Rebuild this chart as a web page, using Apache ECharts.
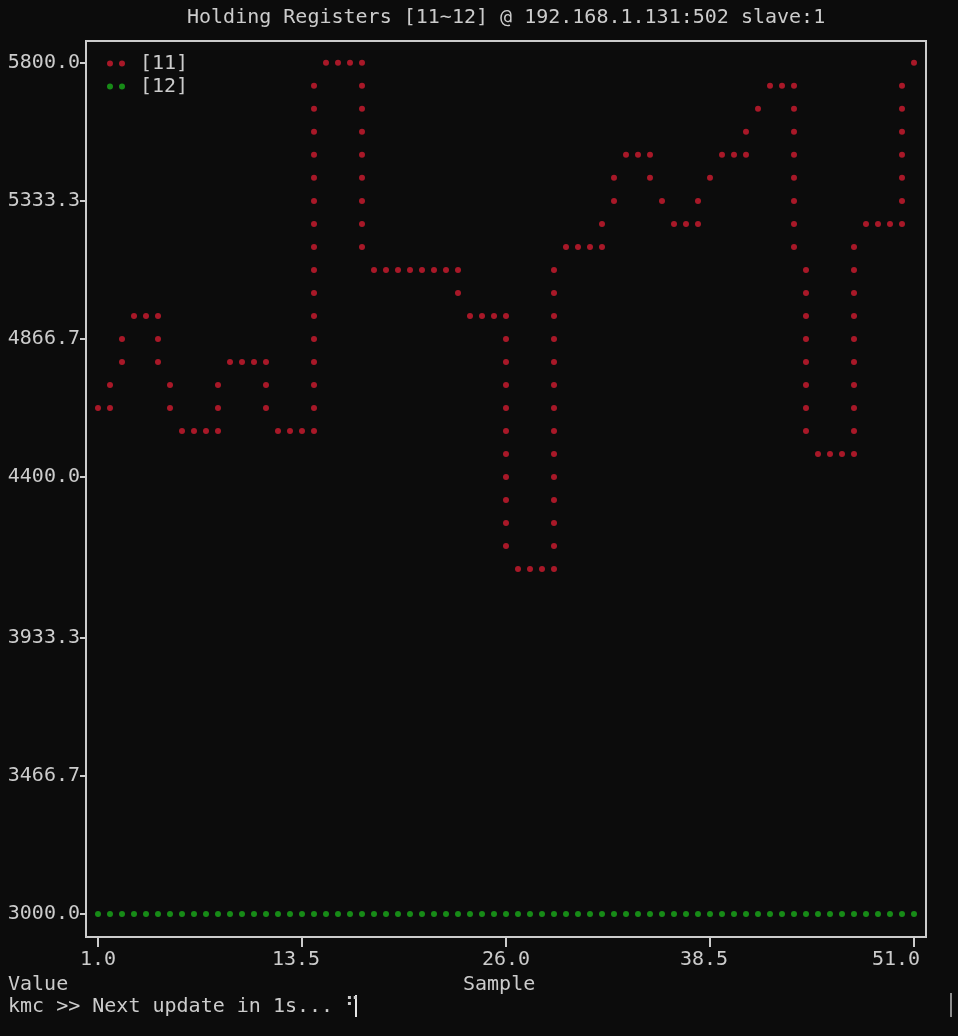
<!DOCTYPE html>
<html>
<head>
<meta charset="utf-8">
<script src="https://cdn.jsdelivr.net/npm/echarts@6/dist/echarts.min.js"></script>
<style>
  html, body { margin: 0; padding: 0; background: #0c0c0c; }
  #chart { width: 958px; height: 1036px; }
</style>
</head>
<body>
<div id="chart"></div>
<script>
// terminal plot: x = plot column (sample axis), y = plot row (value axis, row 0 = top)
const xTickCols = [0, 17, 34, 51, 68]
const xTickLabels = ['1.0', '13.5', '26.0', '38.5', '51.0']
const yTickRows = [0, 6, 12, 18, 25, 31, 37]
const yTickLabels = ['5800.0', '5333.3', '4866.7', '4400.0', '3933.3', '3466.7', '3000.0']

// register [11]: rows lit in each column 0..68
const reg11Rows = [
  [15], [14, 15], [12, 13], [11], [11], [11, 12, 13], [14, 15], [16], [16], [16],
  [14, 15, 16], [13], [13], [13], [13, 14, 15], [16], [16], [16],
  [1, 2, 3, 4, 5, 6, 7, 8, 9, 10, 11, 12, 13, 14, 15, 16],
  [0], [0], [0], [0, 1, 2, 3, 4, 5, 6, 7, 8],
  [9], [9], [9], [9], [9], [9], [9], [9, 10], [11], [11], [11],
  [11, 12, 13, 14, 15, 16, 17, 18, 19, 20, 21],
  [22], [22], [22],
  [9, 10, 11, 12, 13, 14, 15, 16, 17, 18, 19, 20, 21, 22],
  [8], [8], [8], [7, 8], [5, 6], [4], [4], [4, 5], [6], [7], [7], [6, 7], [5],
  [4], [4], [3, 4], [2], [1], [1],
  [1, 2, 3, 4, 5, 6, 7, 8],
  [9, 10, 11, 12, 13, 14, 15, 16],
  [17], [17], [17],
  [8, 9, 10, 11, 12, 13, 14, 15, 16, 17],
  [7], [7], [7],
  [1, 2, 3, 4, 5, 6, 7],
  [0]
]

// register [12]: flat at 3000 (bottom row)
const reg12Rows = [
  [37], [37], [37], [37], [37], [37], [37], [37], [37], [37],
  [37], [37], [37], [37], [37], [37], [37], [37], [37], [37],
  [37], [37], [37], [37], [37], [37], [37], [37], [37], [37],
  [37], [37], [37], [37], [37], [37], [37], [37], [37], [37],
  [37], [37], [37], [37], [37], [37], [37], [37], [37], [37],
  [37], [37], [37], [37], [37], [37], [37], [37], [37], [37],
  [37], [37], [37], [37], [37], [37], [37], [37], [37]
]

const mono = "'DejaVu Sans Mono', monospace"
const fg = '#cccccc'
const twoDots = 'path://M0,3A3,3,0,1,0,6,3A3,3,0,1,0,0,3ZM12,3A3,3,0,1,0,18,3A3,3,0,1,0,12,3Z'

function cells (rowsByCol) {
  const out = []
  rowsByCol.forEach((rows, c) => rows.forEach(r => out.push([c, r])))
  return out
}

const txt = { color: fg, fontSize: 20, fontWeight: 'normal', fontFamily: mono, lineHeight: 23 }
const richX = {
  s0: { color: fg, fontSize: 20, fontFamily: mono },
  s1: { color: fg, fontSize: 20, fontFamily: mono, padding: [0, 12, 0, 0] },
  s2: { color: fg, fontSize: 20, fontFamily: mono },
  s3: { color: fg, fontSize: 20, fontFamily: mono, padding: [0, 12, 0, 0] },
  s4: { color: fg, fontSize: 20, fontFamily: mono, padding: [0, 36, 0, 0] }
}

const option = {
  backgroundColor: '#0c0c0c',
  animation: false,
  textStyle: { fontFamily: mono },
  title: [
    { text: 'Holding Registers [11~12] @ 192.168.1.131:502 slave:1', left: 187, top: 6, padding: 0, textStyle: txt },
    { text: 'Value', left: 8, top: 973, padding: 0, textStyle: txt },
    { text: 'Sample', left: 463, top: 973, padding: 0, textStyle: txt },
    { text: 'kmc >> Next update in 1s... \u280b', left: 8, top: 995, padding: 0, textStyle: txt }
  ],
  legend: {
    orient: 'vertical',
    left: 107,
    top: 52,
    padding: 0,
    itemGap: 0,
    itemWidth: 18,
    itemHeight: 6,
    selectedMode: false,
    textStyle: { color: fg, fontSize: 20, fontFamily: mono, lineHeight: 23, padding: [0, 0, 0, 10] },
    data: [
      { name: '[11]', icon: twoDots },
      { name: '[12]', icon: twoDots }
    ]
  },
  grid: {
    left: 86,
    right: 32,
    top: 41,
    bottom: 99,
    show: true,
    borderColor: fg,
    borderWidth: 2,
    backgroundColor: 'transparent'
  },
  xAxis: {
    type: 'value',
    min: -1,
    max: 69,
    axisLine: { show: false, onZero: false },
    splitLine: { show: false },
    axisTick: {
      show: true,
      length: 10,
      customValues: xTickCols,
      lineStyle: { color: fg, width: 2 }
    },
    axisLabel: {
      customValues: xTickCols,
      margin: 13,
      color: fg,
      fontSize: 20,
      fontFamily: mono,
      formatter: v => {
        const i = xTickCols.indexOf(v)
        return i < 0 ? '' : '{s' + i + '|' + xTickLabels[i] + '}'
      },
      rich: richX
    }
  },
  yAxis: {
    type: 'value',
    inverse: true,
    min: -0.95,
    max: 38,
    axisLine: { show: false, onZero: false },
    splitLine: { show: false },
    axisTick: {
      show: true,
      length: 6,
      customValues: yTickRows,
      lineStyle: { color: fg, width: 2 }
    },
    axisLabel: {
      customValues: yTickRows,
      margin: 6,
      color: fg,
      fontSize: 20,
      fontFamily: mono,
      padding: [2, 0, 0, 0],
      formatter: v => {
        const i = yTickRows.indexOf(v)
        return i < 0 ? '' : yTickLabels[i]
      }
    }
  },
  graphic: [
    { type: 'rect', shape: { x: 355, y: 995, width: 2, height: 22 }, style: { fill: '#e6e6e6' } },
    { type: 'rect', shape: { x: 950, y: 993, width: 2, height: 24 }, style: { fill: '#8a8a8a' } }
  ],
  series: [
    {
      name: '[11]',
      type: 'scatter',
      symbol: 'circle',
      symbolSize: 6,
      silent: true,
      itemStyle: { color: '#d01c2f' },
      data: cells(reg11Rows)
    },
    {
      name: '[12]',
      type: 'scatter',
      symbol: 'circle',
      symbolSize: 6,
      silent: true,
      itemStyle: { color: '#1aab1a' },
      data: cells(reg12Rows)
    }
  ]
}

const myChart = echarts.init(document.getElementById('chart'))
myChart.setOption(option)
</script>
</body>
</html>
